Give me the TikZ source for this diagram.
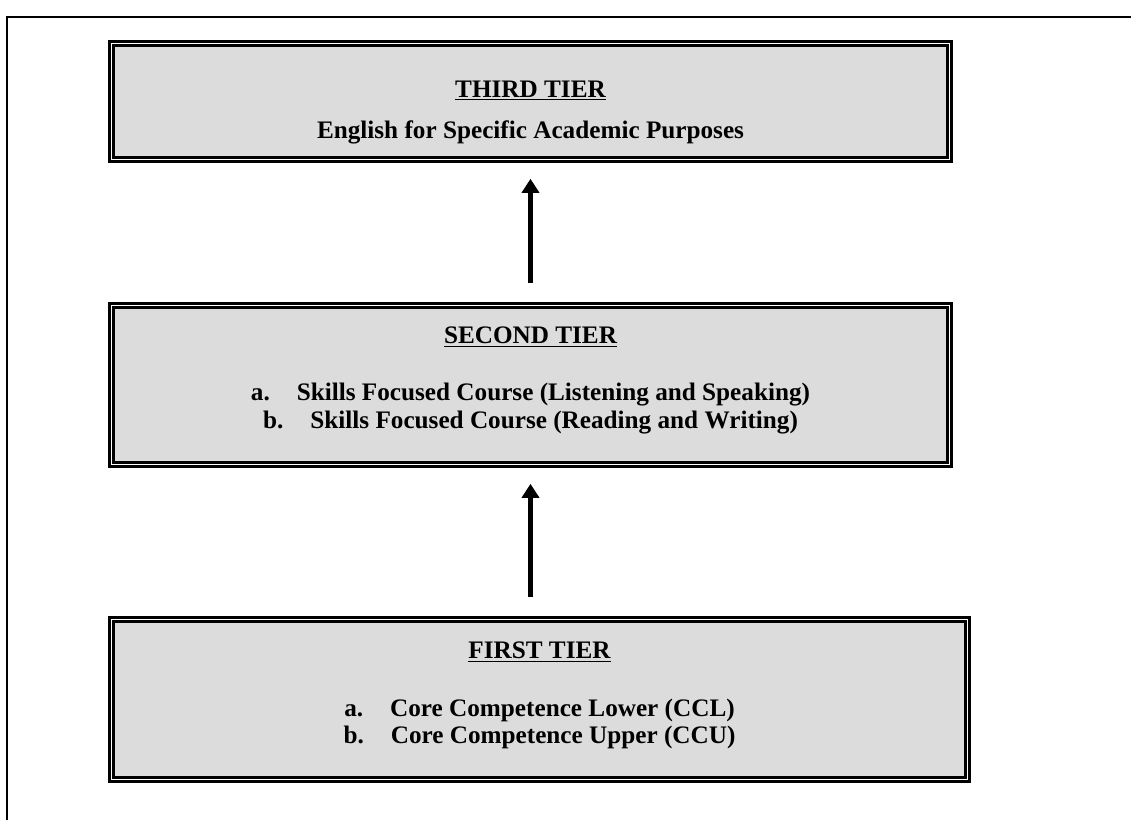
\documentclass[tikz,border=0pt]{standalone}
\usepackage{fontspec}
\setmainfont{Liberation Serif}
\usetikzlibrary{arrows.meta}
\definecolor{tierfill}{RGB}{220,220,220}

\begin{document}
\begin{tikzpicture}[x=0.5pt, y=-0.5pt,
		tier_style/.style={rectangle,draw=black,double=white,line width=1.6pt,double distance=0.5pt,fill=tierfill,inner sep=0pt,outer sep=0pt},
		text_style/.style={anchor=base,inner sep=0pt,font=\fontsize{12.6}{15}\selectfont\bfseries},
		edge_style/.style={draw=black,line width=2.5pt,-{Triangle[width=8.5pt,length=7pt]},shorten >=9.75pt,shorten <=11.25pt}]
		
		\useasboundingbox (0,0) rectangle (1131,820);
		\draw[line width=1pt] (1131,16.5) -- (6.5,16.5) -- (6.5,820);
		
		\node[tier_style,minimum width=418.8pt,minimum height=57.8pt] (tier3) at (530.5,101.5) {};
		\node[tier_style,minimum width=418.8pt,minimum height=79.3pt] (tier2) at (530.5,385) {};
		\node[tier_style,minimum width=427.8pt,minimum height=79.8pt] (tier1) at (539.5,699.5) {};
		
		\node[text_style] (t3head) at (530.5,97)  {\underline{THIRD TIER}};
		\node[text_style] (t3a)    at (530.5,138) {English for Specific Academic Purposes};
		\node[text_style] (t2head) at (530.5,343) {\underline{SECOND TIER}};
		\node[text_style] (t2a)    at (530.5,400) {a.\hspace{13.5pt}Skills Focused Course (Listening and Speaking)};
		\node[text_style] (t2b)    at (530.5,428) {b.\hspace{13.5pt}Skills Focused Course (Reading and Writing)};
		\node[text_style] (t1head) at (539.5,658) {\underline{FIRST TIER}};
		\node[text_style] (t1a)    at (539.5,716) {a.\hspace{13.5pt}Core Competence Lower (CCL)};
		\node[text_style] (t1b)    at (539.5,743) {b.\hspace{13.5pt}Core Competence Upper (CCU)};
		
		\draw[edge_style] (tier2) -- (tier3);
		\draw[edge_style] (tier1.north -| tier2.south) -- (tier2);
		
\end{tikzpicture}
\end{document}
